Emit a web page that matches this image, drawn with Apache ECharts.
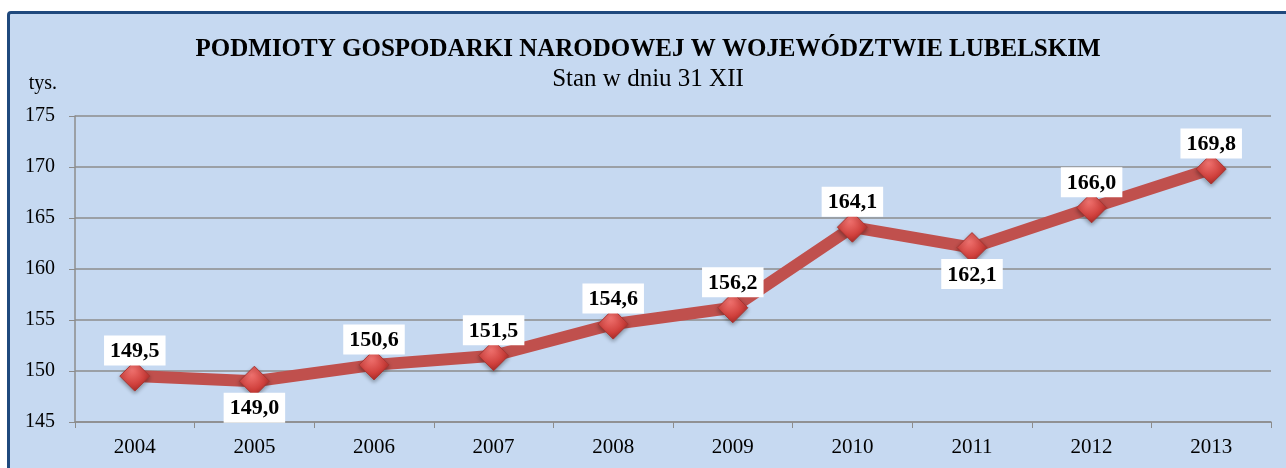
<!DOCTYPE html>
<html>
<head>
<meta charset="utf-8">
<script src="https://cdn.jsdelivr.net/npm/echarts@6/dist/echarts.min.js"></script>
<style>
  html, body { margin: 0; padding: 0; background: #ffffff; }
  .frame {
    position: absolute;
    left: 7px;
    top: 11px;
    width: 1290px;
    height: 470px;
    box-sizing: border-box;
    border: 3px solid #1f497d;
    border-radius: 4px;
    background: #c6d9f1;
  }
  #chart { position: absolute; left: 0; top: 0; width: 1286px; height: 468px; }
</style>
</head>
<body>
<div class="frame"></div>
<div id="chart"></div>
<script>
// dane
const years = ['2004', '2005', '2006', '2007', '2008', '2009', '2010', '2011', '2012', '2013']
const values = [149.5, 149.0, 150.6, 151.5, 154.6, 156.2, 164.1, 162.1, 166.0, 169.8]
// etykiety pod punktem
const labelsBelow = ['2005', '2011']

const serif = '"Liberation Serif", "Times New Roman", serif'

const myEchart = echarts.init(document.getElementById('chart'))

const option = {
  backgroundColor: 'transparent',
  title: {
    text: 'PODMIOTY GOSPODARKI NARODOWEJ W WOJEWÓDZTWIE LUBELSKIM',
    subtext: 'Stan w dniu 31 XII',
    left: 643,
    textAlign: 'center',
    top: 32,
    itemGap: 5,
    textStyle: {
      fontFamily: serif,
      fontSize: 25,
      fontWeight: 'bold',
      color: '#000'
    },
    subtextStyle: {
      fontFamily: serif,
      fontSize: 25,
      color: '#000'
    }
  },
  grid: {
    left: 75,
    right: 15,
    top: 116,
    bottom: 46
  },
  xAxis: {
    type: 'category',
    data: years,
    boundaryGap: true,
    axisLine: { lineStyle: { color: '#8c8c8c', width: 1.5 } },
    axisTick: { show: true, length: 6, lineStyle: { color: '#8c8c8c' } },
    axisLabel: {
      fontFamily: serif,
      fontSize: 21,
      color: '#000',
      margin: 15
    }
  },
  yAxis: {
    type: 'value',
    name: 'tys.',
    nameLocation: 'end',
    nameGap: 22,
    nameTextStyle: {
      fontFamily: serif,
      fontSize: 20,
      color: '#000',
      align: 'right',
      padding: [0, 18, 0, 0]
    },
    min: 145,
    max: 175,
    interval: 5,
    axisLine: { show: true, lineStyle: { color: '#8c8c8c', width: 1.5 } },
    axisTick: { show: true, length: 6, lineStyle: { color: '#8c8c8c' } },
    splitLine: { lineStyle: { color: '#8c8c8c', width: 1.5 } },
    axisLabel: {
      fontFamily: serif,
      fontSize: 20,
      color: '#000',
      margin: 20
    }
  },
  series: [
    {
      type: 'line',
      data: values.map((v, i) => ({
        value: v,
        label: {
          position: labelsBelow.includes(years[i]) ? 'bottom' : 'top',
          distance: labelsBelow.includes(years[i]) ? -4 : -5
        }
      })),
      lineStyle: { color: '#c0504d', width: 12 },
      symbol: 'diamond',
      symbolSize: 30,
      itemStyle: {
        color: new echarts.graphic.RadialGradient(0.4, 0.3, 0.8, [
          { offset: 0, color: '#f07370' },
          { offset: 0.6, color: '#d0403c' },
          { offset: 1, color: '#9c2421' }
        ]),
        borderColor: '#a83532',
        borderWidth: 1,
        shadowColor: 'rgba(0,0,0,0.35)',
        shadowBlur: 4,
        shadowOffsetY: 2
      },
      label: {
        show: true,
        fontFamily: serif,
        fontSize: 22,
        fontWeight: 'bold',
        color: '#000',
        backgroundColor: '#ffffff',
        padding: [5, 6, 3, 6],
        formatter: (p) => p.value.toFixed(1).replace('.', ',')
      },
      z: 3
    }
  ]
}

myEchart.setOption(option)
</script>
</body>
</html>
